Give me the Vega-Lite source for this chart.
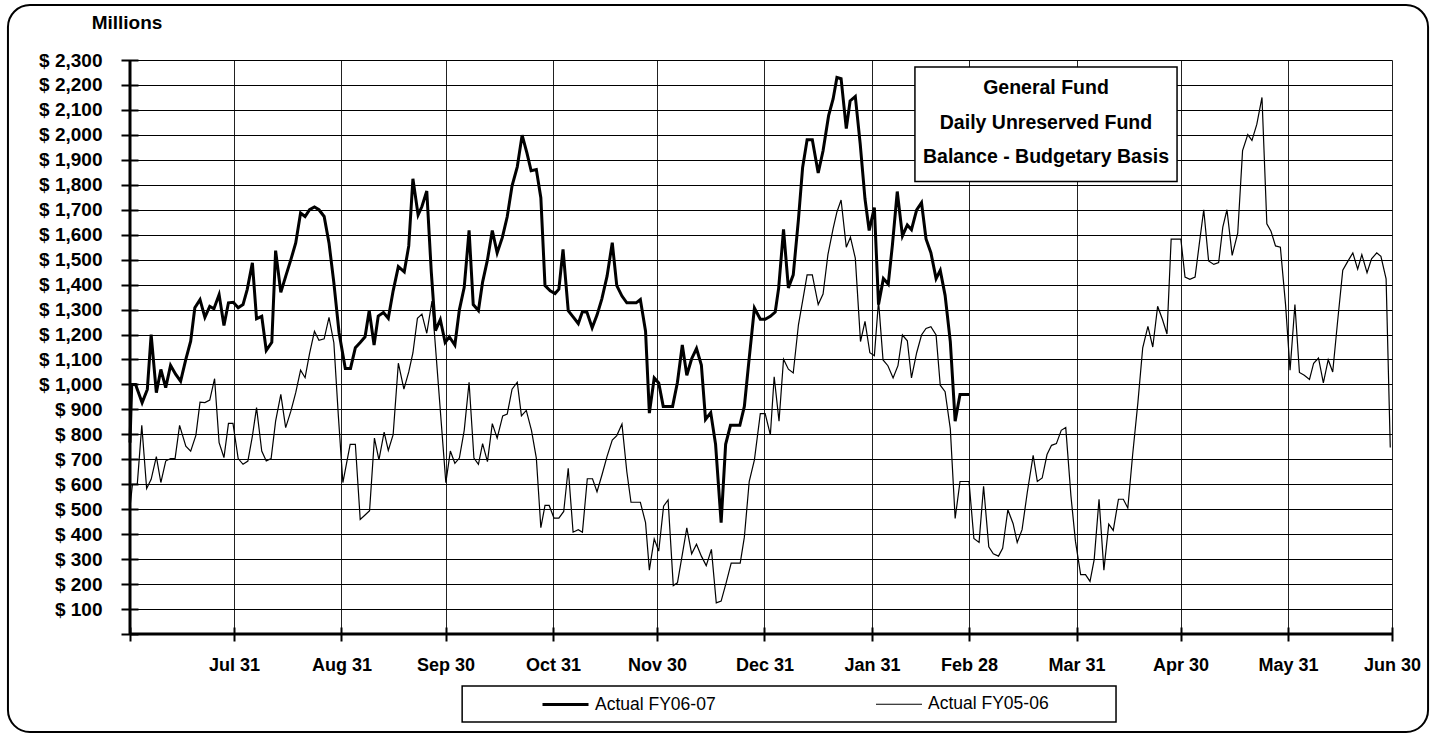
{
  "$schema": "https://vega.github.io/schema/vega-lite/v6.json",
  "width": 1262,
  "height": 574,
  "autosize": {"type": "none"},
  "padding": {"left": 130, "top": 60, "right": 43, "bottom": 102},
  "background": "white",
  "config": {"view": {"stroke": null}, "font": "Liberation Sans"},
  "data": {"values": [
{"series":"Actual FY05-06","day":0,"balance":507},{"series":"Actual FY05-06","day":0.7,"balance":600},{"series":"Actual FY05-06","day":2.1,"balance":600},{"series":"Actual FY05-06","day":3.4,"balance":836},{"series":"Actual FY05-06","day":4.8,"balance":583},{"series":"Actual FY05-06","day":6.1,"balance":620},{"series":"Actual FY05-06","day":7.6,"balance":711},{"series":"Actual FY05-06","day":8.9,"balance":607},{"series":"Actual FY05-06","day":10.3,"balance":693},{"series":"Actual FY05-06","day":11.7,"balance":703},{"series":"Actual FY05-06","day":13.0,"balance":703},{"series":"Actual FY05-06","day":14.3,"balance":836},{"series":"Actual FY05-06","day":16.1,"balance":753},{"series":"Actual FY05-06","day":17.5,"balance":733},{"series":"Actual FY05-06","day":19.0,"balance":796},{"series":"Actual FY05-06","day":20.2,"balance":929},{"series":"Actual FY05-06","day":21.6,"balance":927},{"series":"Actual FY05-06","day":23.0,"balance":937},{"series":"Actual FY05-06","day":24.4,"balance":1023},{"series":"Actual FY05-06","day":25.7,"balance":767},{"series":"Actual FY05-06","day":27.1,"balance":707},{"series":"Actual FY05-06","day":28.4,"balance":844},{"series":"Actual FY05-06","day":29.7,"balance":844},{"series":"Actual FY05-06","day":31.2,"balance":703},{"series":"Actual FY05-06","day":32.6,"balance":680},{"series":"Actual FY05-06","day":34.0,"balance":693},{"series":"Actual FY05-06","day":35.3,"balance":793},{"series":"Actual FY05-06","day":36.5,"balance":907},{"series":"Actual FY05-06","day":38.0,"balance":733},{"series":"Actual FY05-06","day":39.3,"balance":693},{"series":"Actual FY05-06","day":40.7,"balance":703},{"series":"Actual FY05-06","day":42.0,"balance":853},{"series":"Actual FY05-06","day":43.5,"balance":960},{"series":"Actual FY05-06","day":44.9,"balance":827},{"series":"Actual FY05-06","day":46.4,"balance":893},{"series":"Actual FY05-06","day":47.8,"balance":967},{"series":"Actual FY05-06","day":49.2,"balance":1057},{"series":"Actual FY05-06","day":50.5,"balance":1027},{"series":"Actual FY05-06","day":51.8,"balance":1124},{"series":"Actual FY05-06","day":53.2,"balance":1213},{"series":"Actual FY05-06","day":54.5,"balance":1177},{"series":"Actual FY05-06","day":56.0,"balance":1183},{"series":"Actual FY05-06","day":57.4,"balance":1269},{"series":"Actual FY05-06","day":58.8,"balance":1167},{"series":"Actual FY05-06","day":60.1,"balance":873},{"series":"Actual FY05-06","day":61.4,"balance":607},{"series":"Actual FY05-06","day":63.5,"balance":760},{"series":"Actual FY05-06","day":65.0,"balance":760},{"series":"Actual FY05-06","day":66.4,"balance":459},{"series":"Actual FY05-06","day":67.8,"balance":477},{"series":"Actual FY05-06","day":69.1,"balance":494},{"series":"Actual FY05-06","day":70.5,"balance":785},{"series":"Actual FY05-06","day":71.8,"balance":698},{"series":"Actual FY05-06","day":73.3,"balance":809},{"series":"Actual FY05-06","day":74.5,"balance":736},{"series":"Actual FY05-06","day":75.9,"balance":799},{"series":"Actual FY05-06","day":77.4,"balance":1085},{"series":"Actual FY05-06","day":79.0,"balance":981},{"series":"Actual FY05-06","day":80.4,"balance":1050},{"series":"Actual FY05-06","day":81.6,"balance":1126},{"series":"Actual FY05-06","day":82.9,"balance":1265},{"series":"Actual FY05-06","day":84.2,"balance":1282},{"series":"Actual FY05-06","day":85.6,"balance":1205},{"series":"Actual FY05-06","day":87.1,"balance":1334},{"series":"Actual FY05-06","day":91.1,"balance":606},{"series":"Actual FY05-06","day":92.4,"balance":733},{"series":"Actual FY05-06","day":93.7,"balance":684},{"series":"Actual FY05-06","day":95.0,"balance":705},{"series":"Actual FY05-06","day":96.4,"balance":816},{"series":"Actual FY05-06","day":97.8,"balance":1009},{"series":"Actual FY05-06","day":99.2,"balance":705},{"series":"Actual FY05-06","day":100.5,"balance":680},{"series":"Actual FY05-06","day":101.7,"balance":763},{"series":"Actual FY05-06","day":103.1,"balance":691},{"series":"Actual FY05-06","day":104.5,"balance":843},{"series":"Actual FY05-06","day":105.9,"balance":785},{"series":"Actual FY05-06","day":107.5,"balance":874},{"series":"Actual FY05-06","day":108.8,"balance":881},{"series":"Actual FY05-06","day":110.2,"balance":981},{"series":"Actual FY05-06","day":111.7,"balance":1009},{"series":"Actual FY05-06","day":112.9,"balance":874},{"series":"Actual FY05-06","day":114.3,"balance":896},{"series":"Actual FY05-06","day":115.8,"balance":816},{"series":"Actual FY05-06","day":117.2,"balance":705},{"series":"Actual FY05-06","day":118.5,"balance":426},{"series":"Actual FY05-06","day":119.7,"balance":515},{"series":"Actual FY05-06","day":120.9,"balance":515},{"series":"Actual FY05-06","day":122.3,"balance":464},{"series":"Actual FY05-06","day":123.7,"balance":464},{"series":"Actual FY05-06","day":125.1,"balance":491},{"series":"Actual FY05-06","day":126.4,"balance":664},{"series":"Actual FY05-06","day":127.8,"balance":408},{"series":"Actual FY05-06","day":129.3,"balance":418},{"series":"Actual FY05-06","day":130.5,"balance":408},{"series":"Actual FY05-06","day":131.9,"balance":622},{"series":"Actual FY05-06","day":133.4,"balance":622},{"series":"Actual FY05-06","day":134.7,"balance":570},{"series":"Actual FY05-06","day":136.1,"balance":636},{"series":"Actual FY05-06","day":137.6,"balance":712},{"series":"Actual FY05-06","day":139.1,"balance":777},{"series":"Actual FY05-06","day":140.4,"balance":795},{"series":"Actual FY05-06","day":141.9,"balance":841},{"series":"Actual FY05-06","day":143.3,"balance":650},{"series":"Actual FY05-06","day":144.5,"balance":528},{"series":"Actual FY05-06","day":146.0,"balance":528},{"series":"Actual FY05-06","day":147.2,"balance":528},{"series":"Actual FY05-06","day":148.7,"balance":446},{"series":"Actual FY05-06","day":149.8,"balance":256},{"series":"Actual FY05-06","day":151.2,"balance":381},{"series":"Actual FY05-06","day":152.5,"balance":332},{"series":"Actual FY05-06","day":153.9,"balance":512},{"series":"Actual FY05-06","day":155.2,"balance":537},{"series":"Actual FY05-06","day":156.7,"balance":194},{"series":"Actual FY05-06","day":157.9,"balance":205},{"series":"Actual FY05-06","day":159.3,"balance":318},{"series":"Actual FY05-06","day":160.6,"balance":425},{"series":"Actual FY05-06","day":162.0,"balance":321},{"series":"Actual FY05-06","day":163.4,"balance":360},{"series":"Actual FY05-06","day":164.8,"balance":312},{"series":"Actual FY05-06","day":166.2,"balance":274},{"series":"Actual FY05-06","day":167.7,"balance":339},{"series":"Actual FY05-06","day":169.1,"balance":125},{"series":"Actual FY05-06","day":170.5,"balance":132},{"series":"Actual FY05-06","day":172.0,"balance":208},{"series":"Actual FY05-06","day":173.4,"balance":284},{"series":"Actual FY05-06","day":174.6,"balance":284},{"series":"Actual FY05-06","day":176.0,"balance":284},{"series":"Actual FY05-06","day":177.2,"balance":388},{"series":"Actual FY05-06","day":178.6,"balance":611},{"series":"Actual FY05-06","day":180.1,"balance":698},{"series":"Actual FY05-06","day":181.8,"balance":883},{"series":"Actual FY05-06","day":183.2,"balance":883},{"series":"Actual FY05-06","day":184.7,"balance":798},{"series":"Actual FY05-06","day":185.8,"balance":1031},{"series":"Actual FY05-06","day":187.2,"balance":853},{"series":"Actual FY05-06","day":188.5,"balance":1101},{"series":"Actual FY05-06","day":189.9,"balance":1061},{"series":"Actual FY05-06","day":191.3,"balance":1046},{"series":"Actual FY05-06","day":192.8,"balance":1239},{"series":"Actual FY05-06","day":194.2,"balance":1350},{"series":"Actual FY05-06","day":195.3,"balance":1439},{"series":"Actual FY05-06","day":196.8,"balance":1439},{"series":"Actual FY05-06","day":198.5,"balance":1320},{"series":"Actual FY05-06","day":199.9,"balance":1362},{"series":"Actual FY05-06","day":201.3,"balance":1520},{"series":"Actual FY05-06","day":202.8,"balance":1624},{"series":"Actual FY05-06","day":203.9,"balance":1691},{"series":"Actual FY05-06","day":205.1,"balance":1739},{"series":"Actual FY05-06","day":206.6,"balance":1550},{"series":"Actual FY05-06","day":207.8,"balance":1590},{"series":"Actual FY05-06","day":209.2,"balance":1506},{"series":"Actual FY05-06","day":210.7,"balance":1172},{"series":"Actual FY05-06","day":212.0,"balance":1253},{"series":"Actual FY05-06","day":213.4,"balance":1127},{"series":"Actual FY05-06","day":214.7,"balance":1115},{"series":"Actual FY05-06","day":215.9,"balance":1335},{"series":"Actual FY05-06","day":217.2,"balance":1098},{"series":"Actual FY05-06","day":218.6,"balance":1075},{"series":"Actual FY05-06","day":220.1,"balance":1026},{"series":"Actual FY05-06","day":221.5,"balance":1075},{"series":"Actual FY05-06","day":222.8,"balance":1198},{"series":"Actual FY05-06","day":224.2,"balance":1175},{"series":"Actual FY05-06","day":225.4,"balance":1026},{"series":"Actual FY05-06","day":226.9,"balance":1127},{"series":"Actual FY05-06","day":228.3,"balance":1198},{"series":"Actual FY05-06","day":229.6,"balance":1224},{"series":"Actual FY05-06","day":231.0,"balance":1231},{"series":"Actual FY05-06","day":232.5,"balance":1198},{"series":"Actual FY05-06","day":233.7,"balance":997},{"series":"Actual FY05-06","day":235.1,"balance":971},{"series":"Actual FY05-06","day":236.6,"balance":823},{"series":"Actual FY05-06","day":238.0,"balance":463},{"series":"Actual FY05-06","day":239.4,"balance":611},{"series":"Actual FY05-06","day":240.9,"balance":611},{"series":"Actual FY05-06","day":242.0,"balance":611},{"series":"Actual FY05-06","day":243.4,"balance":383},{"series":"Actual FY05-06","day":244.9,"balance":367},{"series":"Actual FY05-06","day":246.2,"balance":592},{"series":"Actual FY05-06","day":247.7,"balance":349},{"series":"Actual FY05-06","day":249.0,"balance":321},{"series":"Actual FY05-06","day":250.5,"balance":312},{"series":"Actual FY05-06","day":251.7,"balance":343},{"series":"Actual FY05-06","day":253.2,"balance":498},{"series":"Actual FY05-06","day":254.7,"balance":443},{"series":"Actual FY05-06","day":255.9,"balance":367},{"series":"Actual FY05-06","day":257.3,"balance":418},{"series":"Actual FY05-06","day":258.8,"balance":567},{"series":"Actual FY05-06","day":260.5,"balance":716},{"series":"Actual FY05-06","day":261.7,"balance":611},{"series":"Actual FY05-06","day":263.1,"balance":625},{"series":"Actual FY05-06","day":264.5,"balance":719},{"series":"Actual FY05-06","day":265.8,"balance":756},{"series":"Actual FY05-06","day":267.2,"balance":763},{"series":"Actual FY05-06","day":268.6,"balance":816},{"series":"Actual FY05-06","day":269.9,"balance":827},{"series":"Actual FY05-06","day":271.4,"balance":553},{"series":"Actual FY05-06","day":272.7,"balance":371},{"series":"Actual FY05-06","day":274.2,"balance":238},{"series":"Actual FY05-06","day":275.6,"balance":238},{"series":"Actual FY05-06","day":276.9,"balance":211},{"series":"Actual FY05-06","day":278.1,"balance":298},{"series":"Actual FY05-06","day":279.5,"balance":540},{"series":"Actual FY05-06","day":280.9,"balance":256},{"series":"Actual FY05-06","day":282.3,"balance":440},{"series":"Actual FY05-06","day":283.6,"balance":415},{"series":"Actual FY05-06","day":285.1,"balance":540},{"series":"Actual FY05-06","day":286.5,"balance":540},{"series":"Actual FY05-06","day":287.8,"balance":505},{"series":"Actual FY05-06","day":289.2,"balance":719},{"series":"Actual FY05-06","day":290.7,"balance":926},{"series":"Actual FY05-06","day":292.1,"balance":1147},{"series":"Actual FY05-06","day":293.6,"balance":1233},{"series":"Actual FY05-06","day":295.0,"balance":1150},{"series":"Actual FY05-06","day":296.4,"balance":1313},{"series":"Actual FY05-06","day":297.8,"balance":1260},{"series":"Actual FY05-06","day":299.1,"balance":1202},{"series":"Actual FY05-06","day":300.3,"balance":1582},{"series":"Actual FY05-06","day":301.8,"balance":1582},{"series":"Actual FY05-06","day":303.1,"balance":1582},{"series":"Actual FY05-06","day":304.3,"balance":1430},{"series":"Actual FY05-06","day":305.7,"balance":1421},{"series":"Actual FY05-06","day":307.2,"balance":1430},{"series":"Actual FY05-06","day":308.4,"balance":1561},{"series":"Actual FY05-06","day":309.7,"balance":1700},{"series":"Actual FY05-06","day":311.1,"balance":1495},{"series":"Actual FY05-06","day":312.6,"balance":1481},{"series":"Actual FY05-06","day":314.0,"balance":1488},{"series":"Actual FY05-06","day":315.2,"balance":1630},{"series":"Actual FY05-06","day":316.4,"balance":1700},{"series":"Actual FY05-06","day":317.9,"balance":1517},{"series":"Actual FY05-06","day":319.5,"balance":1606},{"series":"Actual FY05-06","day":320.9,"balance":1937},{"series":"Actual FY05-06","day":322.4,"balance":2001},{"series":"Actual FY05-06","day":323.6,"balance":1978},{"series":"Actual FY05-06","day":325.0,"balance":2042},{"series":"Actual FY05-06","day":326.5,"balance":2150},{"series":"Actual FY05-06","day":327.9,"balance":1644},{"series":"Actual FY05-06","day":329.1,"balance":1614},{"series":"Actual FY05-06","day":330.4,"balance":1555},{"series":"Actual FY05-06","day":331.8,"balance":1550},{"series":"Actual FY05-06","day":333.3,"balance":1320},{"series":"Actual FY05-06","day":334.6,"balance":1057},{"series":"Actual FY05-06","day":336.0,"balance":1320},{"series":"Actual FY05-06","day":337.3,"balance":1048},{"series":"Actual FY05-06","day":338.7,"balance":1037},{"series":"Actual FY05-06","day":340.2,"balance":1020},{"series":"Actual FY05-06","day":341.4,"balance":1085},{"series":"Actual FY05-06","day":342.8,"balance":1106},{"series":"Actual FY05-06","day":344.2,"balance":1006},{"series":"Actual FY05-06","day":345.6,"balance":1099},{"series":"Actual FY05-06","day":346.9,"balance":1050},{"series":"Actual FY05-06","day":348.3,"balance":1251},{"series":"Actual FY05-06","day":349.8,"balance":1458},{"series":"Actual FY05-06","day":351.2,"balance":1492},{"series":"Actual FY05-06","day":352.7,"balance":1527},{"series":"Actual FY05-06","day":354.1,"balance":1462},{"series":"Actual FY05-06","day":355.3,"balance":1520},{"series":"Actual FY05-06","day":356.8,"balance":1448},{"series":"Actual FY05-06","day":358.1,"balance":1503},{"series":"Actual FY05-06","day":359.6,"balance":1527},{"series":"Actual FY05-06","day":360.8,"balance":1513},{"series":"Actual FY05-06","day":362.3,"balance":1423},{"series":"Actual FY05-06","day":363.5,"balance":747},
{"series":"Actual FY06-07","day":0,"balance":767},{"series":"Actual FY06-07","day":0.5,"balance":1000},{"series":"Actual FY06-07","day":1.6,"balance":1000},{"series":"Actual FY06-07","day":3.5,"balance":927},{"series":"Actual FY06-07","day":5.0,"balance":980},{"series":"Actual FY06-07","day":6.1,"balance":1200},{"series":"Actual FY06-07","day":7.6,"balance":967},{"series":"Actual FY06-07","day":8.9,"balance":1060},{"series":"Actual FY06-07","day":10.3,"balance":987},{"series":"Actual FY06-07","day":11.7,"balance":1076},{"series":"Actual FY06-07","day":13.2,"balance":1040},{"series":"Actual FY06-07","day":14.6,"balance":1013},{"series":"Actual FY06-07","day":16.1,"balance":1100},{"series":"Actual FY06-07","day":17.5,"balance":1173},{"series":"Actual FY06-07","day":18.7,"balance":1307},{"series":"Actual FY06-07","day":20.2,"balance":1340},{"series":"Actual FY06-07","day":21.6,"balance":1269},{"series":"Actual FY06-07","day":23.0,"balance":1313},{"series":"Actual FY06-07","day":24.2,"balance":1303},{"series":"Actual FY06-07","day":25.7,"balance":1360},{"series":"Actual FY06-07","day":27.1,"balance":1236},{"series":"Actual FY06-07","day":28.4,"balance":1327},{"series":"Actual FY06-07","day":29.8,"balance":1329},{"series":"Actual FY06-07","day":31.2,"balance":1307},{"series":"Actual FY06-07","day":32.6,"balance":1320},{"series":"Actual FY06-07","day":33.8,"balance":1380},{"series":"Actual FY06-07","day":35.3,"balance":1487},{"series":"Actual FY06-07","day":36.5,"balance":1263},{"series":"Actual FY06-07","day":38.0,"balance":1273},{"series":"Actual FY06-07","day":39.3,"balance":1136},{"series":"Actual FY06-07","day":40.9,"balance":1169},{"series":"Actual FY06-07","day":42.0,"balance":1536},{"series":"Actual FY06-07","day":43.5,"balance":1369},{"series":"Actual FY06-07","day":44.9,"balance":1433},{"series":"Actual FY06-07","day":46.4,"balance":1500},{"series":"Actual FY06-07","day":47.8,"balance":1567},{"series":"Actual FY06-07","day":49.2,"balance":1687},{"series":"Actual FY06-07","day":50.5,"balance":1673},{"series":"Actual FY06-07","day":51.8,"balance":1700},{"series":"Actual FY06-07","day":53.2,"balance":1711},{"series":"Actual FY06-07","day":54.5,"balance":1700},{"series":"Actual FY06-07","day":56.0,"balance":1673},{"series":"Actual FY06-07","day":57.4,"balance":1567},{"series":"Actual FY06-07","day":58.8,"balance":1407},{"series":"Actual FY06-07","day":60.3,"balance":1207},{"series":"Actual FY06-07","day":62.1,"balance":1064},{"series":"Actual FY06-07","day":63.6,"balance":1064},{"series":"Actual FY06-07","day":65.0,"balance":1147},{"series":"Actual FY06-07","day":66.4,"balance":1168},{"series":"Actual FY06-07","day":67.8,"balance":1191},{"series":"Actual FY06-07","day":69.0,"balance":1296},{"series":"Actual FY06-07","day":70.4,"balance":1158},{"series":"Actual FY06-07","day":71.6,"balance":1274},{"series":"Actual FY06-07","day":73.1,"balance":1288},{"series":"Actual FY06-07","day":74.5,"balance":1265},{"series":"Actual FY06-07","day":75.9,"balance":1375},{"series":"Actual FY06-07","day":77.4,"balance":1472},{"series":"Actual FY06-07","day":79.1,"balance":1451},{"series":"Actual FY06-07","day":80.4,"balance":1555},{"series":"Actual FY06-07","day":81.6,"balance":1824},{"series":"Actual FY06-07","day":83.1,"balance":1679},{"series":"Actual FY06-07","day":84.2,"balance":1713},{"series":"Actual FY06-07","day":85.6,"balance":1775},{"series":"Actual FY06-07","day":86.9,"balance":1451},{"series":"Actual FY06-07","day":88.1,"balance":1216},{"series":"Actual FY06-07","day":89.5,"balance":1260},{"series":"Actual FY06-07","day":90.9,"balance":1168},{"series":"Actual FY06-07","day":92.1,"balance":1191},{"series":"Actual FY06-07","day":93.7,"balance":1158},{"series":"Actual FY06-07","day":95.0,"balance":1299},{"series":"Actual FY06-07","day":96.4,"balance":1389},{"series":"Actual FY06-07","day":97.8,"balance":1617},{"series":"Actual FY06-07","day":99.0,"balance":1320},{"series":"Actual FY06-07","day":100.5,"balance":1296},{"series":"Actual FY06-07","day":101.7,"balance":1410},{"series":"Actual FY06-07","day":103.1,"balance":1499},{"series":"Actual FY06-07","day":104.5,"balance":1617},{"series":"Actual FY06-07","day":105.9,"balance":1527},{"series":"Actual FY06-07","day":107.4,"balance":1589},{"series":"Actual FY06-07","day":108.8,"balance":1672},{"series":"Actual FY06-07","day":110.2,"balance":1796},{"series":"Actual FY06-07","day":111.7,"balance":1872},{"series":"Actual FY06-07","day":113.1,"balance":1999},{"series":"Actual FY06-07","day":114.5,"balance":1927},{"series":"Actual FY06-07","day":115.7,"balance":1856},{"series":"Actual FY06-07","day":117.2,"balance":1861},{"series":"Actual FY06-07","day":118.5,"balance":1748},{"series":"Actual FY06-07","day":119.7,"balance":1396},{"series":"Actual FY06-07","day":121.2,"balance":1375},{"series":"Actual FY06-07","day":122.6,"balance":1364},{"series":"Actual FY06-07","day":123.7,"balance":1382},{"series":"Actual FY06-07","day":124.9,"balance":1541},{"series":"Actual FY06-07","day":126.4,"balance":1296},{"series":"Actual FY06-07","day":127.8,"balance":1271},{"series":"Actual FY06-07","day":129.3,"balance":1244},{"series":"Actual FY06-07","day":130.5,"balance":1292},{"series":"Actual FY06-07","day":131.8,"balance":1289},{"series":"Actual FY06-07","day":133.3,"balance":1227},{"series":"Actual FY06-07","day":134.7,"balance":1278},{"series":"Actual FY06-07","day":136.1,"balance":1343},{"series":"Actual FY06-07","day":137.6,"balance":1434},{"series":"Actual FY06-07","day":139.1,"balance":1568},{"series":"Actual FY06-07","day":140.4,"balance":1396},{"series":"Actual FY06-07","day":141.9,"balance":1354},{"series":"Actual FY06-07","day":143.3,"balance":1327},{"series":"Actual FY06-07","day":144.7,"balance":1327},{"series":"Actual FY06-07","day":146.0,"balance":1327},{"series":"Actual FY06-07","day":147.2,"balance":1340},{"series":"Actual FY06-07","day":148.7,"balance":1213},{"series":"Actual FY06-07","day":149.8,"balance":885},{"series":"Actual FY06-07","day":151.2,"balance":1026},{"series":"Actual FY06-07","day":152.5,"balance":1006},{"series":"Actual FY06-07","day":153.8,"balance":912},{"series":"Actual FY06-07","day":155.2,"balance":912},{"series":"Actual FY06-07","day":156.5,"balance":912},{"series":"Actual FY06-07","day":157.9,"balance":1009},{"series":"Actual FY06-07","day":159.3,"balance":1158},{"series":"Actual FY06-07","day":160.6,"balance":1037},{"series":"Actual FY06-07","day":162.0,"balance":1103},{"series":"Actual FY06-07","day":163.4,"balance":1144},{"series":"Actual FY06-07","day":164.8,"balance":1078},{"series":"Actual FY06-07","day":166.0,"balance":860},{"series":"Actual FY06-07","day":167.5,"balance":887},{"series":"Actual FY06-07","day":168.9,"balance":760},{"series":"Actual FY06-07","day":170.5,"balance":446},{"series":"Actual FY06-07","day":171.8,"balance":760},{"series":"Actual FY06-07","day":173.2,"balance":836},{"series":"Actual FY06-07","day":174.7,"balance":836},{"series":"Actual FY06-07","day":175.9,"balance":836},{"series":"Actual FY06-07","day":177.2,"balance":912},{"series":"Actual FY06-07","day":178.4,"balance":1078},{"series":"Actual FY06-07","day":180.1,"balance":1306},{"series":"Actual FY06-07","day":181.8,"balance":1261},{"series":"Actual FY06-07","day":183.2,"balance":1261},{"series":"Actual FY06-07","day":184.7,"balance":1273},{"series":"Actual FY06-07","day":186.1,"balance":1290},{"series":"Actual FY06-07","day":187.1,"balance":1387},{"series":"Actual FY06-07","day":188.5,"balance":1621},{"series":"Actual FY06-07","day":189.9,"balance":1387},{"series":"Actual FY06-07","day":191.3,"balance":1439},{"series":"Actual FY06-07","day":192.8,"balance":1661},{"series":"Actual FY06-07","day":194.0,"balance":1869},{"series":"Actual FY06-07","day":195.3,"balance":1980},{"series":"Actual FY06-07","day":196.8,"balance":1980},{"series":"Actual FY06-07","day":198.5,"balance":1847},{"series":"Actual FY06-07","day":199.9,"balance":1936},{"series":"Actual FY06-07","day":201.5,"balance":2077},{"series":"Actual FY06-07","day":202.8,"balance":2144},{"series":"Actual FY06-07","day":203.9,"balance":2230},{"series":"Actual FY06-07","day":205.1,"balance":2225},{"series":"Actual FY06-07","day":206.6,"balance":2025},{"series":"Actual FY06-07","day":207.7,"balance":2136},{"series":"Actual FY06-07","day":209.2,"balance":2154},{"series":"Actual FY06-07","day":210.6,"balance":1966},{"series":"Actual FY06-07","day":212.0,"balance":1743},{"series":"Actual FY06-07","day":213.2,"balance":1617},{"series":"Actual FY06-07","day":214.7,"balance":1709},{"series":"Actual FY06-07","day":215.9,"balance":1320},{"series":"Actual FY06-07","day":217.3,"balance":1424},{"series":"Actual FY06-07","day":218.7,"balance":1402},{"series":"Actual FY06-07","day":219.9,"balance":1558},{"series":"Actual FY06-07","day":221.3,"balance":1773},{"series":"Actual FY06-07","day":222.8,"balance":1595},{"series":"Actual FY06-07","day":224.2,"balance":1639},{"series":"Actual FY06-07","day":225.4,"balance":1620},{"series":"Actual FY06-07","day":226.9,"balance":1699},{"series":"Actual FY06-07","day":228.3,"balance":1728},{"series":"Actual FY06-07","day":229.6,"balance":1583},{"series":"Actual FY06-07","day":231.0,"balance":1528},{"series":"Actual FY06-07","day":232.5,"balance":1424},{"series":"Actual FY06-07","day":233.7,"balance":1457},{"series":"Actual FY06-07","day":235.1,"balance":1357},{"series":"Actual FY06-07","day":236.6,"balance":1172},{"series":"Actual FY06-07","day":238.0,"balance":853},{"series":"Actual FY06-07","day":239.4,"balance":960},{"series":"Actual FY06-07","day":240.9,"balance":960},{"series":"Actual FY06-07","day":242.0,"balance":960}
  ]},
  "layer": [
    {
      "data": {"values": [{}]},
      "mark": {"type": "rect", "fillOpacity": 0, "stroke": "black", "strokeWidth": 2, "cornerRadius": 22},
      "encoding": {
        "x": {"datum": -35.2, "type": "quantitative"},
        "x2": {"datum": 374.4},
        "y": {"datum": 2520, "type": "quantitative"},
        "y2": {"datum": -393}
      }
    },
    {
      "mark": {"type": "line", "color": "black"},
      "encoding": {
        "x": {
          "field": "day", "type": "quantitative",
          "scale": {"domain": [0, 364], "nice": false, "zero": false},
          "axis": {
            "title": null,
            "values": [0, 30, 61, 91, 122, 152, 183, 214, 242, 273, 303, 334, 364],
            "tickCount": 40,
            "labelExpr": "indexof([30,61,91,122,152,183,214,242,273,303,334,364], datum.value) < 0 ? '' : ['Jul 31','Aug 31','Sep 30','Oct 31','Nov 30','Dec 31','Jan 31','Feb 28','Mar 31','Apr 30','May 31','Jun 30'][indexof([30,61,91,122,152,183,214,242,273,303,334,364], datum.value)]",
            "offset": -7, "tickSize": 14, "tickWidth": 2, "tickColor": "black",
            "domain": false,
            "grid": true, "gridColor": "#222222", "gridWidth": 1,
            "labelFont": "Liberation Sans", "labelFontSize": 18, "labelFontWeight": "bold", "labelColor": "black",
            "labelPadding": 15, "labelFlush": false, "labelOverlap": false
          }
        },
        "y": {
          "field": "balance", "type": "quantitative",
          "scale": {"domain": [0, 2300], "nice": false, "zero": true},
          "axis": {
            "title": "Millions", "titleAngle": 0, "titleAlign": "center", "titleBaseline": "middle",
            "titleX": -11.5, "titleY": -38,
            "titleFont": "Liberation Sans", "titleFontSize": 19, "titleFontWeight": "bold", "titleColor": "black",
            "values": [0,100,200,300,400,500,600,700,800,900,1000,1100,1200,1300,1400,1500,1600,1700,1800,1900,2000,2100,2200,2300],
            "tickCount": 40,
            "labelExpr": "datum.value == 0 ? '' : '$ ' + format(datum.value, ',')",
            "offset": -8, "tickSize": 17, "tickWidth": 2, "tickColor": "black",
            "domain": false,
            "grid": true, "gridColor": "black", "gridWidth": 1,
            "labelFont": "Liberation Sans", "labelFontSize": 19, "labelFontWeight": "bold", "labelColor": "black",
            "labelPadding": 19, "labelFlush": false, "labelOverlap": false
          }
        },
        "strokeWidth": {
          "field": "series", "type": "ordinal",
          "scale": {"domain": ["Actual FY06-07", "Actual FY05-06"], "range": [3, 1.2]},
          "legend": {
            "title": null, "orient": "none", "legendX": 411, "legendY": 620,
            "direction": "horizontal", "symbolType": "stroke", "symbolSize": 2116,
            "symbolStrokeColor": "black",
            "labelFont": "Liberation Sans", "labelFontSize": 17.5, "labelColor": "black",
            "labelOffset": 5, "columnPadding": 157, "padding": 0, "labelLimit": 300
          }
        }
      }
    },
    {
      "data": {"values": [{}]},
      "mark": {"type": "rule", "color": "black", "strokeWidth": 3},
      "encoding": {"x": {"datum": 0, "type": "quantitative"}}
    },
    {
      "data": {"values": [{}]},
      "mark": {"type": "rule", "color": "black", "strokeWidth": 3},
      "encoding": {"y": {"datum": 0, "type": "quantitative"}}
    },
    {
      "data": {"values": [{}]},
      "mark": {"type": "rect", "fill": "white", "stroke": "black", "strokeWidth": 1.5},
      "encoding": {
        "x": {"datum": 226.4, "type": "quantitative"},
        "x2": {"datum": 302.0},
        "y": {"datum": 2272, "type": "quantitative"},
        "y2": {"datum": 1813}
      }
    },
    {
      "data": {"values": [{}]},
      "mark": {
        "type": "text",
        "text": ["General Fund", "Daily Unreserved Fund", "Balance - Budgetary Basis"],
        "lineHeight": 34.5, "align": "center", "baseline": "middle",
        "font": "Liberation Sans", "fontSize": 19.5, "fontWeight": "bold", "color": "black"
      },
      "encoding": {
        "x": {"datum": 264.2, "type": "quantitative"},
        "y": {"datum": 2187, "type": "quantitative"}
      }
    },
    {
      "data": {"values": [{}]},
      "mark": {"type": "rect", "fillOpacity": 0, "stroke": "black", "strokeWidth": 1.5},
      "encoding": {
        "x": {"datum": 95.8, "type": "quantitative"},
        "x2": {"datum": 284.4},
        "y": {"datum": -208.4, "type": "quantitative"},
        "y2": {"datum": -352.6}
      }
    }
  ]
}
